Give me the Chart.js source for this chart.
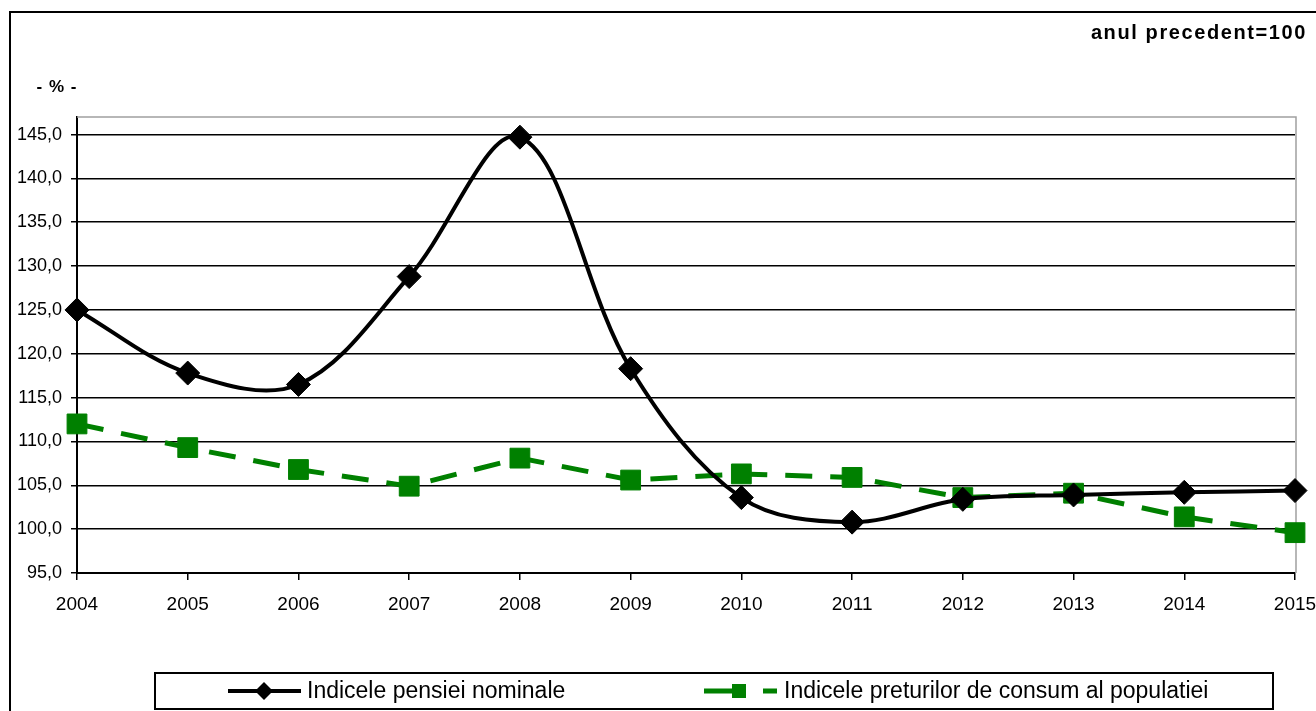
<!DOCTYPE html>
<html>
<head>
<meta charset="utf-8">
<script src="https://cdn.jsdelivr.net/npm/chart.js@4.4.1/dist/chart.umd.min.js"></script>
<style>
    html, body { margin: 0; padding: 0; background: #fff; overflow: hidden; }
    #wrap { width: 1316px; height: 711px; }
</style>
</head>
<body>
<div id="wrap"><canvas id="chart" width="1316" height="711"></canvas></div>
<script>
/* --- DATOS --- */
const years = ['2004', '2005', '2006', '2007', '2008', '2009', '2010', '2011', '2012', '2013', '2014', '2015'];
const pensionIdx = [125.0, 117.8, 116.5, 128.8, 144.7, 118.3, 103.6, 100.8, 103.4, 103.9, 104.2, 104.4];
const cpiIdx = [112.0, 109.3, 106.8, 104.9, 108.1, 105.6, 106.3, 105.9, 103.6, 104.1, 101.4, 99.6];
const yTickValues = [95, 100, 105, 110, 115, 120, 125, 130, 135, 140, 145];
const seriesNames = ['Indicele pensiei nominale', 'Indicele preturilor de consum al populatiei'];
const unitLabel = '- % -';
const baseLabel = 'anul precedent=100';

const FONT = "'Liberation Sans', Arial, sans-serif";
const GREEN = '#008000';

// Marco exterior, borde del área de trazado y textos
const framePlugin = {
    id: 'frame',
    beforeDatasetsDraw(chart) {
        const { ctx, chartArea: a } = chart;
        ctx.save();
        ctx.strokeStyle = '#a0a0a0';
        ctx.lineWidth = 1.5;
        ctx.beginPath();
        ctx.moveTo(a.left, a.top);
        ctx.lineTo(a.right + 1, a.top);
        ctx.lineTo(a.right + 1, a.bottom);
        ctx.stroke();
        ctx.restore();
    },
    afterDraw(chart) {
        const { ctx } = chart;
        ctx.save();
        ctx.strokeStyle = '#000';
        ctx.lineWidth = 2;
        ctx.beginPath();
        ctx.moveTo(10, 711);
        ctx.lineTo(10, 12);
        ctx.lineTo(1316, 12);
        ctx.stroke();

        ctx.fillStyle = '#000';
        ctx.textBaseline = 'middle';
        ctx.font = 'bold 17px ' + FONT;
        ctx.textAlign = 'center';
        ctx.letterSpacing = '1px';
        ctx.fillText(unitLabel, 57, 87);

        ctx.font = 'bold 20px ' + FONT;
        ctx.textAlign = 'right';
        ctx.letterSpacing = '1.6px';
        ctx.fillText(baseLabel, 1307, 33);
        ctx.letterSpacing = '0px';
        ctx.restore();
    }
};

// Leyenda con muestra de línea + marcador
const legendPlugin = {
    id: 'boxLegend',
    afterDraw(chart) {
        const { ctx } = chart;
        ctx.save();
        ctx.strokeStyle = '#000';
        ctx.lineWidth = 2;
        ctx.strokeRect(155, 673, 1118, 36);

        const cy = 691;
        // serie 1
        ctx.strokeStyle = '#000';
        ctx.lineWidth = 4;
        ctx.beginPath();
        ctx.moveTo(228, cy);
        ctx.lineTo(301, cy);
        ctx.stroke();
        ctx.fillStyle = '#000';
        ctx.beginPath();
        ctx.moveTo(264 - 9, cy);
        ctx.lineTo(264, cy - 9);
        ctx.lineTo(264 + 9, cy);
        ctx.lineTo(264, cy + 9);
        ctx.closePath();
        ctx.fill();

        // serie 2
        ctx.strokeStyle = GREEN;
        ctx.lineWidth = 5;
        ctx.beginPath();
        ctx.moveTo(704, cy); ctx.lineTo(746, cy);
        ctx.moveTo(763, cy); ctx.lineTo(777, cy);
        ctx.stroke();
        ctx.fillStyle = GREEN;
        ctx.fillRect(739 - 7, cy - 7, 14, 14);

        ctx.fillStyle = '#000';
        ctx.font = '23px ' + FONT;
        ctx.textAlign = 'left';
        ctx.textBaseline = 'middle';
        ctx.fillText(seriesNames[0], 307, cy + 1);
        ctx.fillText(seriesNames[1], 784, cy + 1);
        ctx.restore();
    }
};

new Chart(document.getElementById('chart').getContext('2d'), {
    type: 'line',
    data: {
        labels: years,
        datasets: [
            {
                label: seriesNames[0],
                data: pensionIdx,
                borderColor: '#000',
                backgroundColor: '#000',
                borderWidth: 4,
                tension: 0.35,
                pointStyle: 'rectRot',
                pointRadius: 12,
                pointBorderWidth: 1,
                pointBackgroundColor: '#000',
                pointBorderColor: '#000'
            },
            {
                label: seriesNames[1],
                data: cpiIdx,
                borderColor: GREEN,
                backgroundColor: GREEN,
                borderWidth: 5,
                borderDash: [27, 18],
                tension: 0,
                pointStyle: 'rect',
                pointRadius: 14,
                pointBorderWidth: 1,
                pointBackgroundColor: GREEN,
                pointBorderColor: GREEN
            }
        ]
    },
    options: {
        responsive: false,
        devicePixelRatio: 1,
        animation: false,
        layout: { padding: { top: 117, right: 21, bottom: 0, left: 0 } },
        plugins: {
            legend: { display: false },
            tooltip: { enabled: false }
        },
        scales: {
            x: {
                offset: false,
                afterFit: s => { s.height = 138; s.paddingLeft = 0; s.paddingRight = 0; },
                grid: { drawOnChartArea: false, drawTicks: true, tickLength: 7, color: '#000', lineWidth: 1.5 },
                border: { display: true, color: '#000', width: 2 },
                ticks: { color: '#000', font: { family: FONT, size: 19 }, padding: 13, maxRotation: 0, autoSkip: false }
            },
            y: {
                min: 95,
                max: 147,
                afterFit: s => { s.width = 77; s.paddingTop = 0; s.paddingBottom = 0; },
                afterBuildTicks: s => { s.ticks = yTickValues.map(v => ({ value: v })); },
                grid: { color: '#000', lineWidth: 1.5, tickLength: 6 },
                border: { display: true, color: '#000', width: 2 },
                ticks: {
                    color: '#000',
                    font: { family: FONT, size: 18 },
                    padding: 9,
                    callback: v => v.toFixed(1).replace('.', ',')
                }
            }
        }
    },
    plugins: [framePlugin, legendPlugin]
});
</script>
</body>
</html>
